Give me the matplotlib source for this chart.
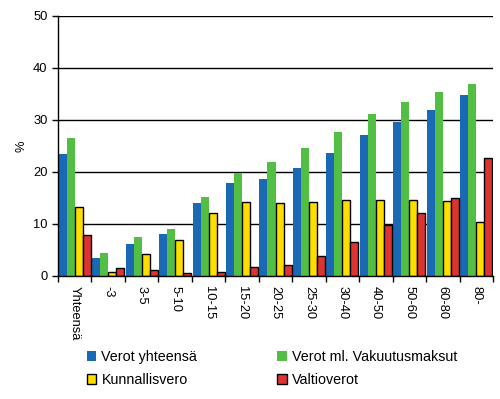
import matplotlib.pyplot as plt
import numpy as np
from matplotlib.patches import Patch

plt.rcParams['font.family'] = ['Liberation Sans', 'DejaVu Sans']
plt.rcParams['font.size'] = 9.3

# Data
categories = ['Yhteensä', '-3', '3-5', '5-10', '10-15', '15-20', '20-25',
              '25-30', '30-40', '40-50', '50-60', '60-80', '80-']
verot_yht = [23.5, 3.5, 6.2, 8.1, 14.0, 17.9, 18.7, 20.8, 23.7, 27.1, 29.6, 31.9, 34.8]
verot_vak = [26.5, 4.4, 7.5, 9.0, 15.2, 19.8, 21.9, 24.6, 27.7, 31.2, 33.5, 35.4, 36.9]
kunnallis = [13.2, 0.7, 4.2, 6.9, 12.1, 14.2, 14.0, 14.2, 14.6, 14.7, 14.7, 14.4, 10.3]
valtio = [7.8, 1.5, 1.1, 0.5, 0.7, 1.7, 2.2, 3.8, 6.5, 9.9, 12.2, 14.9, 22.6]

series = [verot_yht, verot_vak, kunnallis, valtio]
labels = ['Verot yhteensä', 'Verot ml. Vakuutusmaksut', 'Kunnallisvero', 'Valtioverot']
colors = ['#1a69b4', '#52be44', '#ffdd00', '#dd3333']
edges = [None, None, 'black', 'black']

fig = plt.figure(figsize=(5, 3.99), dpi=100)
ax = fig.add_axes([0.116, 0.3083, 0.87, 0.6517])

x = np.arange(len(categories))
w = 0.24
for i, (vals, col, ec) in enumerate(zip(series, colors, edges)):
    pos = x - 0.48 + w * i + w / 2
    if ec:
        ax.bar(pos, vals, width=w, color=col, edgecolor=ec, linewidth=1, zorder=3)
    else:
        ax.bar(pos, vals, width=w, color=col, linewidth=0, zorder=3)

ax.set_ylim(0, 50)
ax.set_xlim(-0.5, len(categories) - 0.5)
ax.set_yticks([0, 10, 20, 30, 40, 50])
ax.yaxis.grid(True, color='black', linewidth=1, zorder=0)
ax.set_axisbelow(True)

# ticks at group boundaries, labels at group centres
ax.set_xticks(np.arange(len(categories) + 1) - 0.5)
ax.set_xticklabels([])
ax.set_xticks(x, minor=True)
ax.set_xticklabels(categories, minor=True, rotation=270, va='top', ha='center')
ax.tick_params(axis='x', which='minor', length=0, pad=7)
ax.tick_params(axis='x', which='major', length=4, width=1, direction='out')
ax.tick_params(axis='y', length=4, width=1, direction='out')

for s in ['top', 'right']:
    ax.spines[s].set_visible(False)
for s in ['left', 'bottom']:
    ax.spines[s].set_linewidth(1)
    ax.spines[s].set_zorder(4)

ax.set_ylabel('%', labelpad=4)

handles = [Patch(facecolor=c, edgecolor=(e if e else c), linewidth=(1 if e else 0))
           for c, e in zip(colors, edges)]
order = [0, 2, 1, 3]
fig.legend([handles[i] for i in order], [labels[i] for i in order], ncol=2,
           loc='upper left', bbox_to_anchor=(0.174, 0.122), frameon=False,
           fontsize=10.3, handlelength=0.66, handleheight=0.66, handletextpad=0.35,
           columnspacing=5.6, labelspacing=0.6, borderaxespad=0, borderpad=0)

fig.savefig('out.png', dpi=100)
